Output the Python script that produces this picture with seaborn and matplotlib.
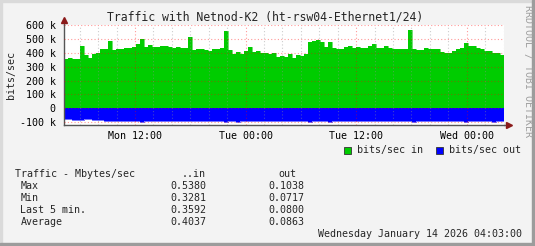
import numpy as np
import pandas as pd
import matplotlib
matplotlib.use("Agg")
import matplotlib.pyplot as plt
from matplotlib.patches import Rectangle
from matplotlib.ticker import FuncFormatter, MultipleLocator
import seaborn as sns

# ---------------- data ----------------
title = "Traffic with Netnod-K2 (ht-rsw04-Ethernet1/24)"
in_kbits = [354, 365, 357, 357, 446, 383, 365, 390, 400, 430,
            430, 488, 422, 425, 430, 435, 435, 440, 465, 500,
            445, 458, 440, 445, 450, 448, 440, 435, 445, 438,
            435, 515, 420, 427, 425, 422, 412, 428, 425, 435,
            555, 420, 392, 405, 393, 415, 440, 407, 410, 395,
            400, 392, 400, 368, 375, 373, 390, 363, 385, 380,
            388, 480, 488, 490, 480, 443, 475, 435, 425, 427,
            440, 450, 437, 441, 432, 435, 446, 462, 432, 432,
            448, 434, 430, 428, 425, 430, 565, 430, 422, 423,
            432, 425, 430, 430, 405, 400, 400, 415, 430, 432,
            470, 450, 450, 438, 430, 415, 410, 400, 395, 383]
out_kbits = [80, 80, 83, 83, 82, 80, 79, 81, 84, 83,
             90, 92, 91, 93, 90, 92, 91, 90, 93, 100,
             90, 91, 92, 90, 89, 93, 91, 90, 92, 91,
             93, 90, 92, 91, 90, 92, 94, 91, 90, 92,
             99, 92, 90, 96, 91, 93, 90, 91, 92, 90,
             93, 91, 90, 92, 91, 94, 90, 92, 91, 90,
             93, 99, 92, 90, 91, 93, 98, 91, 90, 92,
             93, 91, 90, 92, 91, 90, 93, 92, 90, 91,
             93, 90, 92, 91, 90, 92, 93, 100, 91, 90,
             92, 93, 91, 90, 92, 91, 90, 93, 92, 90,
             97, 91, 92, 90, 93, 91, 92, 96, 91, 92]
t_start_h = 4.3      # hours since Mon 00:00
t_end_h = 52.05      # Wed 04:03
x_major = [12, 24, 36, 48]
x_labels = ["Mon 12:00", "Tue 00:00", "Tue 12:00", "Wed 00:00"]
y_ticks = [-100000, 0, 100000, 200000, 300000, 400000, 500000, 600000]
legend_labels = ["bits/sec in", "bits/sec out"]
stat_names = ["Max", "Min", "Last 5 min.", "Average"]
stat_in = ["0.5380", "0.3281", "0.3592", "0.4037"]
stat_out = ["0.1038", "0.0717", "0.0800", "0.0863"]
stamp = "Wednesday January 14 2026 04:03:00"

# ---------------- figure ----------------
sns.set_style("white")
plt.rcParams["font.family"] = ["DejaVu Sans Mono"]
W, H = 535, 246
fig = plt.figure(figsize=(W / 100, H / 100), dpi=100)
fig.patch.set_facecolor("#F3F3F3")

def fx(x):
    return x / W

def fy(y):
    return 1 - y / H

# bevel border
fig.patches.append(Rectangle((0, fy(2)), 1, fx(0) + 2 / H, transform=fig.transFigure, color="#DADADA", zorder=0))
fig.patches.append(Rectangle((0, 0), fx(2), 1, transform=fig.transFigure, color="#DADADA", zorder=0))
fig.patches.append(Rectangle((0, 0), 1, 3 / H, transform=fig.transFigure, color="#9C9C9C", zorder=0))
fig.patches.append(Rectangle((fx(W - 3), 0), fx(3), 1, transform=fig.transFigure, color="#9C9C9C", zorder=0))

ax = fig.add_axes([fx(64), fy(125), fx(440), 100 / H])
ax.set_facecolor("white")

n = len(in_kbits)
edges = np.linspace(t_start_h, t_end_h, n + 1)
df = pd.DataFrame({
    "t": edges,
    "in": np.array(in_kbits + [in_kbits[-1]]) * 1000.0,
    "out": -np.array(out_kbits + [out_kbits[-1]]) * 1000.0,
})

ax.fill_between(df["t"], 0, df["in"], step="post", color="#00CC00", lw=0, zorder=1)
ax.fill_between(df["t"], 0, df["out"], step="post", color="#0000FF", lw=0, zorder=1)
sns.lineplot(data=df, x="t", y="in", drawstyle="steps-post", color="#00CC00", lw=0.4, ax=ax, zorder=1)
sns.lineplot(data=df, x="t", y="out", drawstyle="steps-post", color="#0000FF", lw=0.4, ax=ax, zorder=1)

ax.set_xlim(t_start_h, t_end_h)
ax.set_ylim(-120000, 600000)
ax.set_xlabel("")
ax.set_ylabel("")

ax.set_xticks(x_major)
ax.set_xticklabels(x_labels)
ax.xaxis.set_minor_locator(MultipleLocator(2))
ax.set_yticks(y_ticks)
ax.yaxis.set_major_formatter(FuncFormatter(lambda v, p: "0" if v == 0 else f"{int(round(v / 1000))} k"))

ax.set_axisbelow(False)
ax.grid(which="minor", axis="x", color="#909090", alpha=0.45, lw=0.8, ls=(0, (1, 2)), zorder=3)
ax.grid(which="major", axis="both", color="#FF0000", alpha=0.4, lw=0.8, ls=(0, (1, 2)), zorder=3)

ax.tick_params(axis="x", which="both", length=0, pad=4, labelsize=7.2, colors="black")
ax.tick_params(axis="y", which="major", length=2, width=0.8, color="#555555", pad=4, labelsize=7.2, labelcolor="black")

for s in ["top", "right"]:
    ax.spines[s].set_visible(False)
for s in ["left", "bottom"]:
    ax.spines[s].set_color("#555555")
    ax.spines[s].set_linewidth(1.0)

# axis extensions and arrows
ax.plot([0, 0], [1, 1.06], transform=ax.transAxes, color="#555555", lw=1, clip_on=False)
ax.plot([0], [1.055], transform=ax.transAxes, marker="^", color="#8B1A1A", ms=4, clip_on=False)
ax.plot([1, 1.012], [0, 0], transform=ax.transAxes, color="#555555", lw=1, clip_on=False)
ax.plot([1.012], [0], transform=ax.transAxes, marker=">", color="#8B1A1A", ms=4, clip_on=False)

# texts
fs = 7.2
fig.text(fx(265.5), fy(16.7), title, ha="center", va="center", fontsize=8.3)
fig.text(fx(11), fy(75), "bits/sec", rotation=90, ha="center", va="center", fontsize=fs)
fig.text(fx(528), fy(5), "RRDTOOL / TOBI OETIKER", rotation=270, ha="center", va="top",
         fontsize=fs, color="#A0A0A0")

# legend
fig.patches.append(Rectangle((fx(344), fy(154)), fx(7), 7 / H, transform=fig.transFigure,
                             facecolor="#00CC00", edgecolor="#333333", lw=0.6))
fig.text(fx(357), fy(150.5), legend_labels[0], ha="left", va="center", fontsize=fs)
fig.patches.append(Rectangle((fx(436), fy(154)), fx(7), 7 / H, transform=fig.transFigure,
                             facecolor="#0000FF", edgecolor="#333333", lw=0.6))
fig.text(fx(449), fy(150.5), legend_labels[1], ha="left", va="center", fontsize=fs)

# statistics block
fig.text(fx(15), fy(174), "Traffic - Mbytes/sec", ha="left", va="center", fontsize=fs)
fig.text(fx(206), fy(174), "..in", ha="right", va="center", fontsize=fs)
fig.text(fx(296), fy(174), "out", ha="right", va="center", fontsize=fs)
for k, (nm, vi, vo) in enumerate(zip(stat_names, stat_in, stat_out)):
    yy = 185.7 + 12 * k
    fig.text(fx(20.5), fy(yy), nm, ha="left", va="center", fontsize=fs)
    fig.text(fx(206), fy(yy), vi, ha="right", va="center", fontsize=fs)
    fig.text(fx(304), fy(yy), vo, ha="right", va="center", fontsize=fs)
fig.text(fx(522), fy(234), stamp, ha="right", va="center", fontsize=fs)

fig.savefig("out.png", dpi=100, facecolor=fig.get_facecolor())
